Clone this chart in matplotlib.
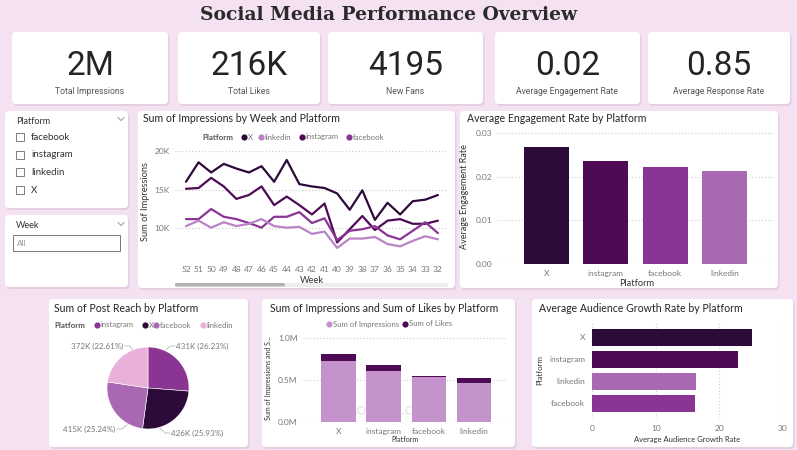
import matplotlib
matplotlib.use("Agg")
import matplotlib.pyplot as plt
from matplotlib.patches import FancyBboxPatch, Rectangle
from matplotlib import font_manager

# ---- data ----
platforms = ["X", "instagram", "facebook", "linkedin"]

kpi_values = ["2M", "216K", "4195", "0.02", "0.85"]
kpi_labels = ["Total Impressions", "Total Likes", "New Fans",
              "Average Engagement Rate", "Average Response Rate"]

weeks = [52, 51, 50, 49, 48, 47, 46, 45, 44, 43, 42, 41, 40, 39, 38, 37, 36, 35, 34, 33, 32]
impr_x = [16000, 18500, 17200, 18300, 17700, 17200, 18000, 16000, 18800, 15700, 15400,
          15200, 14500, 12400, 14900, 11100, 13300, 11800, 13500, 13700, 14300]
impr_instagram = [15100, 15200, 16500, 15400, 13800, 14300, 15400, 13000, 14100, 13000, 11800,
                  13200, 8200, 9900, 11600, 9800, 11000, 11200, 10600, 10600, 11000]
impr_facebook = [11200, 11200, 12500, 11500, 11200, 10700, 10100, 11500, 11500, 12100, 10700,
                 11300, 8500, 9700, 9900, 10300, 9100, 8600, 9700, 10800, 9400]
impr_linkedin = [10300, 11000, 10100, 10800, 10300, 10600, 11200, 10300, 10100, 10200, 9300,
                 9600, 7500, 8700, 8700, 8900, 8000, 7700, 8400, 9000, 8600]

engagement = [0.0269, 0.0237, 0.0223, 0.0213]   # X, instagram, facebook, linkedin

pie_labels = ["instagram", "X", "facebook", "linkedin"]
pie_values = [431, 426, 415, 372]               # K
pie_text = ["431K (26.23%)", "426K (25.93%)", "415K (25.24%)", "372K (22.61%)"]

impressions = [0.73e6, 0.61e6, 0.53e6, 0.47e6]  # X, instagram, facebook, linkedin
likes = [0.08e6, 0.07e6, 0.02e6, 0.05e6]

growth_platforms = ["X", "instagram", "linkedin", "facebook"]
growth = [25.1, 22.9, 16.3, 16.1]

slicer_items = ["facebook", "instagram", "linkedin", "X"]

# ---- style ----
c_x = "#2c0a3a"
c_ig = "#4f0a56"
c_fb = "#8a3593"
c_li = "#a868b2"
c_li_line = "#b884c6"
c_li_pie = "#e9b1da"
c_imp = "#c493cc"
bg_col = "#f4e2f2"
grey = "#777777"
dark = "#333333"

names = {f.name for f in font_manager.fontManager.ttflist}
base_font = "Lato" if "Lato" in names else "DejaVu Sans"
num_font = "Liberation Sans Narrow" if "Liberation Sans Narrow" in names else "Roboto"
plt.rcParams["font.family"] = [base_font, "DejaVu Sans"]

W, H = 797, 450
fig = plt.figure(figsize=(W / 100, H / 100), dpi=100, facecolor=bg_col)

bg = fig.add_axes([0, 0, 1, 1], zorder=-5)
bg.set_xlim(0, W)
bg.set_ylim(H, 0)
bg.axis("off")


def ax_at(x0, y0, x1, y1):
    a = fig.add_axes([x0 / W, 1 - y1 / H, (x1 - x0) / W, (y1 - y0) / H])
    a.set_facecolor("none")
    for s in a.spines.values():
        s.set_visible(False)
    return a


def card(x0, y0, x1, y1):
    bg.add_patch(FancyBboxPatch((x0 + 1.5, y0 + 2), x1 - x0, y1 - y0,
                                boxstyle="round,pad=0,rounding_size=4",
                                fc="#dcc8da", ec="none", alpha=0.7, zorder=1))
    bg.add_patch(FancyBboxPatch((x0, y0), x1 - x0, y1 - y0,
                                boxstyle="round,pad=0,rounding_size=4",
                                fc="white", ec="none", zorder=2))


def chevron(x, y):
    bg.plot([x - 3, x, x + 3], [y - 1.5, y + 1.5, y - 1.5], color="#999999", lw=0.7, zorder=3)


def legend_item(x, y, name, color):
    bg.scatter([x], [y], s=20, color=color, zorder=4, linewidths=0)
    bg.text(x + 3.8, y, name, fontsize=5.6, color=grey, va="center", zorder=4)


def title(x, y, s):
    bg.text(x, y, s, fontsize=7.6, color="#252423", va="center", ha="left", zorder=4)


# ---- header ----
bg.text(W / 2 - 10, 15, "Social Media Performance Overview", fontsize=13.5, fontweight="bold",
        family="DejaVu Serif", color="#2a2a2a", ha="center", va="center")

kpi_boxes = [(12, 32, 168, 104), (178, 32, 320, 104), (328, 32, 483, 104),
             (495, 32, 640, 104), (648, 32, 790, 104)]
for (x0, y0, x1, y1), v, lab in zip(kpi_boxes, kpi_values, kpi_labels):
    card(x0, y0, x1, y1)
    cx = (x0 + x1) / 2
    bg.text(cx, 66, v, fontsize=24, family=num_font, color="#252423",
            ha="center", va="center", zorder=4)
    bg.text(cx, 92, lab, fontsize=6.2, family=num_font, color="#555555", ha="center", va="center", zorder=4)

# ---- slicers ----
card(5, 111, 128, 208)
bg.text(16, 121, "Platform", fontsize=6.5, color=dark, va="center", zorder=4)
chevron(121, 119)
for i, item in enumerate(slicer_items):
    y = 137 + i * 17.7
    bg.add_patch(Rectangle((16, y - 4), 8, 8, fc="white", ec="#666666", lw=0.6, zorder=4))
    bg.text(31, y, item, fontsize=7, color=dark, va="center", zorder=4)

card(5, 215, 128, 287)
bg.text(16, 226, "Week", fontsize=6.5, color=dark, va="center", zorder=4)
chevron(121, 224)
bg.add_patch(Rectangle((13, 235), 107, 16, fc="white", ec="#777777", lw=0.7, zorder=4))
bg.text(17, 243, "All", fontsize=6, color="#999999", va="center", zorder=5)
chevron(112, 242)

# ---- line chart ----
card(138, 111, 455, 288)
title(143, 119, "Sum of Impressions by Week and Platform")
bg.text(202, 137, "Platform", fontsize=5.8, fontweight="bold", color="#555555", va="center", zorder=4)
for lx, name, col in [(244, "X", c_x), (261, "linkedin", c_li_line),
                      (302, "instagram", c_ig), (349, "facebook", c_fb)]:
    legend_item(lx, 137, name, col)

ax1 = ax_at(175, 146, 448, 258)
xs = list(range(len(weeks)))
for series, col in [(impr_x, c_x), (impr_instagram, c_ig), (impr_facebook, c_fb), (impr_linkedin, c_li_line)]:
    ax1.plot(xs, series, color=col, lw=1.6, solid_capstyle="round")
ax1.set_xlim(-0.87, 20.8)
ax1.set_ylim(6200, 20600)
ax1.set_yticks([10000, 15000, 20000])
ax1.set_yticklabels(["10K", "15K", "20K"])
ax1.set_xticks(xs)
ax1.set_xticklabels([str(w) for w in weeks])
ax1.tick_params(length=0, labelsize=6, labelcolor=grey, pad=4)
ax1.tick_params(axis="x", pad=6)
ax1.grid(axis="y", color="#cccccc", linestyle=(0, (1, 2)), lw=0.8)
ax1.set_ylabel("Sum of Impressions", fontsize=6.7, color=dark, labelpad=3)
ax1.set_xlabel("Week", fontsize=6.7, color=dark, labelpad=2)
bg.add_patch(Rectangle((175, 283), 273, 3.5, fc="#eeeeee", ec="none", zorder=3))
bg.add_patch(FancyBboxPatch((175, 283), 110, 3.5, boxstyle="round,pad=0,rounding_size=1.5",
                            fc="#b3b3b3", ec="none", zorder=4))

# ---- engagement bar chart ----
card(460, 111, 778, 288)
title(467, 119, "Average Engagement Rate by Platform")
ax2 = ax_at(498, 130, 775, 264)
ax2.bar(range(4), engagement, width=0.76, color=[c_x, c_ig, c_fb, c_li], zorder=3)
ax2.set_xlim(-0.82, 3.85)
ax2.set_ylim(0, 0.0307)
ax2.set_yticks([0, 0.01, 0.02, 0.03])
ax2.set_yticklabels(["0.00", "0.01", "0.02", "0.03"])
ax2.set_xticks(range(4))
ax2.set_xticklabels(platforms)
ax2.tick_params(length=0, labelsize=6, labelcolor=grey, pad=4)
ax2.grid(axis="y", color="#cccccc", linestyle=(0, (1, 2)), lw=0.8, zorder=0)
ax2.set_ylabel("Average Engagement Rate", fontsize=6.5, color=dark, labelpad=5)
ax2.set_xlabel("Platform", fontsize=6.7, color=dark, labelpad=2)

# ---- pie ----
card(49, 299, 248, 447)
title(54, 308, "Sum of Post Reach by Platform")
bg.text(54, 325, "Platform", fontsize=5.8, fontweight="bold", color="#555555", va="center", zorder=4)
for lx, name, col in [(97, "instagram", c_fb), (145, "X", c_x),
                      (156, "facebook", c_li), (203, "linkedin", c_li_pie)]:
    legend_item(lx, 325, name, col)

ax3 = ax_at(107, 347, 189, 429)
ax3.pie(pie_values, colors=[c_fb, c_x, c_li, c_li_pie], startangle=90, counterclock=False,
        wedgeprops=dict(edgecolor="white", linewidth=0.4))
ax3.set_xlim(-1, 1)
ax3.set_ylim(-1, 1)
ax3.set_aspect("equal")

lab_style = dict(fontsize=5.8, color=grey, va="center", zorder=4)
bg.text(176, 346, pie_text[0], ha="left", **lab_style)
bg.plot([166, 170, 175], [350, 346, 346], color="#aaaaaa", lw=0.5, zorder=4)
bg.text(171, 433, pie_text[1], ha="left", **lab_style)
bg.plot([160, 165, 170], [428, 433, 433], color="#aaaaaa", lw=0.5, zorder=4)
bg.text(115, 429, pie_text[2], ha="right", **lab_style)
bg.plot([117, 122, 127], [429, 429, 425], color="#aaaaaa", lw=0.5, zorder=4)
bg.text(123, 346, pie_text[3], ha="right", **lab_style)
bg.plot([125, 130, 133], [346, 346, 350], color="#aaaaaa", lw=0.5, zorder=4)

# ---- impressions & likes stacked ----
card(262, 299, 515, 447)
title(270, 308, "Sum of Impressions and Sum of Likes by Platform")
legend_item(329, 324, "Sum of Impressions", c_imp)
legend_item(405, 324, "Sum of Likes", c_ig)

ax4 = ax_at(303, 334, 507, 422)
ax4.bar(range(4), impressions, width=0.77, color=c_imp, zorder=3)
ax4.bar(range(4), likes, bottom=impressions, width=0.77, color=c_ig, zorder=3)
ax4.set_xlim(-0.79, 3.73)
ax4.set_ylim(0, 1.048e6)
ax4.set_yticks([0, 0.5e6, 1.0e6])
ax4.set_yticklabels(["0.0M", "0.5M", "1.0M"])
ax4.set_xticks(range(4))
ax4.set_xticklabels(platforms)
ax4.tick_params(length=0, labelsize=6, labelcolor=grey, pad=4)
ax4.grid(axis="y", color="#cccccc", linestyle=(0, (1, 2)), lw=0.8, zorder=0)
ax4.set_ylabel("Sum of Impressions and S...", fontsize=5, color=dark, labelpad=4)
ax4.set_xlabel("Platform", fontsize=5.2, color=dark, labelpad=1)
bg.text(390, 410, "mostaql.com", fontsize=12, color="#999999", alpha=0.25,
        ha="center", va="center", zorder=10)

# ---- audience growth ----
card(532, 299, 793, 447)
title(539, 308, "Average Audience Growth Rate by Platform")
ax5 = ax_at(592, 322, 783, 418)
ax5.barh(range(4), growth, height=0.77, color=[c_x, c_ig, c_li, c_fb], zorder=3)
ax5.set_ylim(3.66, -0.70)
ax5.set_xlim(0, 30)
ax5.set_xticks([0, 10, 20, 30])
ax5.set_yticks(range(4))
ax5.set_yticklabels(growth_platforms)
ax5.tick_params(length=0, labelsize=6, labelcolor=grey, pad=5)
ax5.grid(axis="x", color="#cccccc", linestyle=(0, (1, 2)), lw=0.8, zorder=0)
ax5.set_ylabel("Platform", fontsize=5.7, color=dark, labelpad=4)
ax5.set_xlabel("Average Audience Growth Rate", fontsize=5.5, color=dark, labelpad=3)

fig.savefig("out.png", dpi=100, facecolor=bg_col)
